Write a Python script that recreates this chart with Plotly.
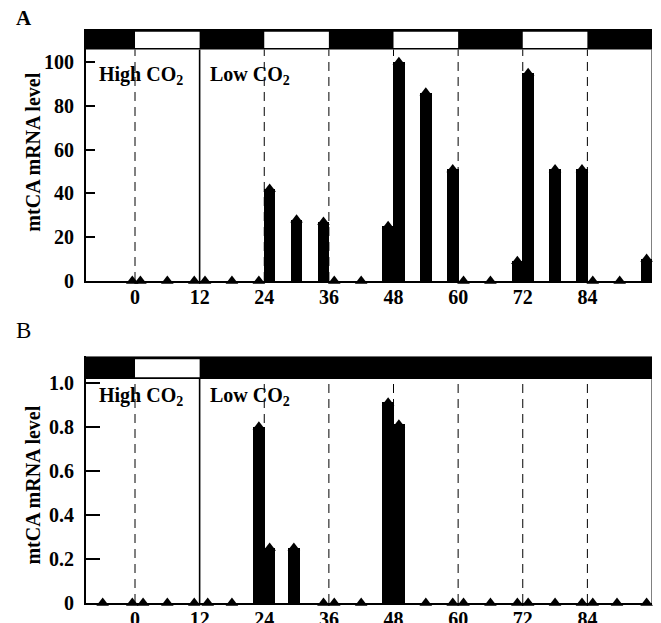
import plotly.graph_objects as go
from plotly.subplots import make_subplots

# ---- data ----
hours_a = [-0.5, 1, 6, 11, 13, 18, 23, 25, 30, 35, 37, 42, 47, 49, 54, 59, 61, 66, 71, 73, 78, 83, 85, 90, 95]
level_a = [0, 0, 0, 0, 0, 0, 0, 42, 28, 27, 0, 0, 25, 100, 86, 51, 0, 0, 9, 95, 51, 51, 0, 0, 10]

hours_b = [-6, -0.5, 1.5, 6, 11, 13.5, 18, 23, 25, 29.5, 35, 37, 42, 47, 49, 54, 59, 61, 66, 71, 73, 78, 83, 85, 89.5, 95]
level_b = [0, 0, 0, 0, 0, 0, 0, 0.8, 0.25, 0.25, 0, 0, 0, 0.91, 0.81, 0, 0, 0, 0, 0, 0, 0, 0, 0, 0, 0]

x_ticks = [0, 12, 24, 36, 48, 60, 72, 84]
y_ticks_a = [0, 20, 40, 60, 80, 100]
y_ticks_b = [0, 0.2, 0.4, 0.6, 0.8, 1.0]
y_ticktext_b = ["0", "0.2", "0.4", "0.6", "0.8", "1.0"]

# light periods (white) in the top bars
light_a = [(0, 12), (24, 36), (48, 60), (72, 84)]
light_b = [(0, 12)]
dashed_a = [0, 24, 36, 48, 60, 72, 84]
dashed_b = [0, 24, 36, 48, 60, 72, 84]
co2_switch = 12

X0, X1 = -9.1, 96
YMAX_A, BAR_A = 115.2, 105.8
YMAX_B, BAR_B = 1.121, 1.017

FONT = "Liberation Serif"

fig = make_subplots(rows=2, cols=1, vertical_spacing=0.131)

for row, hrs, lvl in [(1, hours_a, level_a), (2, hours_b, level_b)]:
    fig.add_trace(go.Bar(x=hrs, y=lvl, width=2.15, marker=dict(color="black", line=dict(width=0)),
                         showlegend=False), row=row, col=1)
    fig.add_trace(go.Scatter(x=hrs, y=lvl, mode="markers",
                             marker=dict(symbol="triangle-up", size=11, color="black"),
                             cliponaxis=False, showlegend=False), row=row, col=1)

shapes = []
def add_panel(xref, yref, ymax, barlow, lights, dashed):
    for d in dashed:
        shapes.append(dict(type="line", xref=xref, yref=yref, x0=d, x1=d, y0=0, y1=barlow,
                           line=dict(color="black", width=1, dash="9px,6px"), layer="below"))
    shapes.append(dict(type="line", xref=xref, yref=yref, x0=co2_switch, x1=co2_switch, y0=0, y1=barlow,
                       line=dict(color="black", width=1.6), layer="above"))
    shapes.append(dict(type="line", xref=xref, yref=yref, x0=X1, x1=X1, y0=0, y1=barlow,
                       line=dict(color="black", width=1), layer="above"))
    shapes.append(dict(type="rect", xref=xref, yref=yref, x0=X0, x1=X1, y0=barlow, y1=ymax,
                       fillcolor="black", line=dict(width=0), layer="above"))
    h = ymax - barlow
    for a, b in lights:
        shapes.append(dict(type="rect", xref=xref, yref=yref, x0=a, x1=b,
                           y0=barlow + h * 0.08, y1=ymax - h * 0.13,
                           fillcolor="white", line=dict(width=0), layer="above"))

add_panel("x", "y", YMAX_A, BAR_A, light_a, dashed_a)
add_panel("x2", "y2", YMAX_B, BAR_B, light_b, dashed_b)

axis_common = dict(showline=True, linecolor="black", linewidth=2, showgrid=False, zeroline=False,
                   automargin=False)
xfont = dict(family=FONT, size=20, color="black", weight="bold")
fig.update_xaxes(range=[X0, X1], tickvals=x_ticks, ticks="", tickfont=xfont,
                 ticklabelstandoff=-3, **axis_common)
fig.update_yaxes(ticks="inside", tickcolor="black", tickwidth=1.5, tickfont=xfont,
                 ticklabelstandoff=6, **axis_common)
fig.update_yaxes(range=[0, YMAX_A], tickvals=y_ticks_a, ticklen=9, row=1, col=1)
fig.update_yaxes(range=[0, YMAX_B], tickvals=y_ticks_b, ticktext=y_ticktext_b, ticklen=14, row=2, col=1)

ann = []
tfont = dict(family=FONT, size=20, color="black", weight="bold")
for xref, yref, yv in [("x", "y", 94), ("x2", "y2", 0.936)]:
    ann.append(dict(text="High CO<sub>2</sub>", x=-7.1, y=yv, xref=xref, yref=yref,
                    xanchor="left", yanchor="middle", showarrow=False, font=tfont))
    ann.append(dict(text="Low CO<sub>2</sub>", x=13.6, y=yv, xref=xref, yref=yref,
                    xanchor="left", yanchor="middle", showarrow=False, font=tfont))
for yv in [0.786, 0.206]:
    ann.append(dict(text="mtCA mRNA level", x=-0.094, y=yv, xref="paper", yref="paper",
                    textangle=-90, xanchor="center", yanchor="middle", showarrow=False, font=tfont))
ann.append(dict(text="A", x=-0.128, y=1.02, xref="paper", yref="paper", xanchor="left", yanchor="middle",
                showarrow=False, font=dict(family=FONT, size=21, color="black", weight="bold")))
ann.append(dict(text="B", x=-0.128, y=0.474, xref="paper", yref="paper", xanchor="left", yanchor="middle",
                showarrow=False, font=dict(family=FONT, size=23, color="black")))

# page body has an 8px margin, so the figure is offset by (8, 8)
fig.update_layout(width=653, height=615, margin=dict(l=78, r=9, t=21, b=20, autoexpand=False),
                  paper_bgcolor="white", plot_bgcolor="white", bargap=0,
                  shapes=shapes, annotations=ann, showlegend=False)
fig.update_yaxes(domain=[0.561, 1.0], row=1, col=1)
fig.update_yaxes(domain=[0.0, 0.430], row=2, col=1)

fig.write_html("out.html")
